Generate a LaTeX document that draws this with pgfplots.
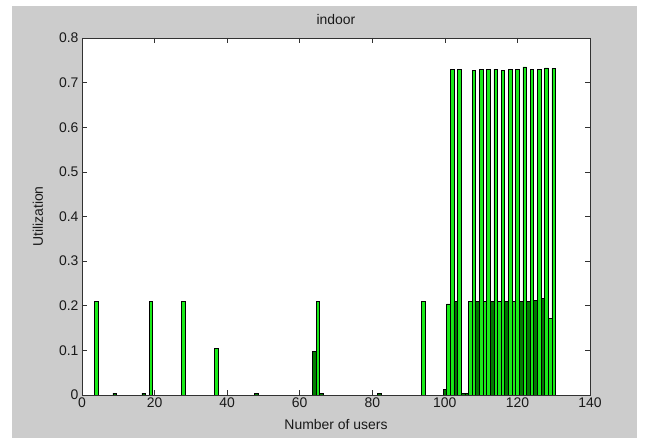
\documentclass[border=0pt]{standalone}
\usepackage{pgfplots}
\pgfplotsset{compat=1.18}
\usepackage{fontspec}
\setmainfont{Liberation Sans}
\definecolor{figgray}{RGB}{204,204,204}
\definecolor{lgreen}{RGB}{25,235,25}
\definecolor{dgreen}{RGB}{0,125,0}
\definecolor{axcol}{RGB}{50,50,50}
\begin{document}
\begin{tikzpicture}[x=1bp,y=1bp]
\useasboundingbox (0,0) rectangle (645,441);
\fill[white] (0,0) rectangle (645,441);
\fill[figgray] (12,3) rectangle (637,435);
\begin{axis}[
  at={(82bp,46bp)}, anchor=south west,
  scale only axis, width=508bp, height=357bp,
  xmin=0, xmax=140, ymin=0, ymax=0.8,
  axis background/.style={fill=white},
  axis line style={axcol, line width=0.6bp},
  tick style={axcol, line width=0.6bp},
  tick align=inside, major tick length=5bp,
  xtick={0,20,...,140}, ytick={0,0.1,...,0.8},
  xticklabels={0,20,40,60,80,100,120,140},
  yticklabels={0,0.1,0.2,0.3,0.4,0.5,0.6,0.7,0.8},
  ticklabel style={font=\fontsize{14}{16}\selectfont, text=black!90},
  xticklabel style={yshift=1bp},
  title={indoor},
  title style={font=\fontsize{14}{16}\selectfont, at={(0.5,1)}, anchor=south, yshift=4bp, text=black!90},
  xlabel={Number of users},
  xlabel style={font=\fontsize{14}{16}\selectfont, at={(axis description cs:0.5,0)}, anchor=center, yshift=-30bp, text=black!90},
  ylabel={Utilization},
  ylabel style={font=\fontsize{14}{16}\selectfont, at={(axis description cs:0,0.5)}, anchor=center, yshift=44bp, text=black!90},
]
\addplot[ybar, bar width=1, bar shift=0pt, fill=lgreen, draw=black, line width=0.6bp] coordinates {
(4,0.209) (19,0.209) (28,0.209) (37,0.105) (65,0.209) (94,0.209)
(101,0.204) (102,0.730) (104,0.730) (107,0.209) (108,0.727) (110,0.730)
(111,0.209) (112,0.730) (114,0.730) (115,0.209) (116,0.728) (118,0.730)
(119,0.209) (120,0.730) (122,0.735) (124,0.730) (126,0.730) (128,0.733)
(129,0.172) (130,0.732)
};
\addplot[ybar, bar width=1, bar shift=0pt, fill=dgreen, draw=black, line width=0.6bp] coordinates {
(9,0.004) (17,0.004) (48,0.004) (64,0.097) (66,0.004) (82,0.004)
(100,0.012) (103,0.209) (105,0.004) (106,0.004) (109,0.209) (113,0.209)
(117,0.209) (121,0.209) (123,0.209) (125,0.212) (127,0.216)
};
\end{axis}
\end{tikzpicture}
\end{document}
